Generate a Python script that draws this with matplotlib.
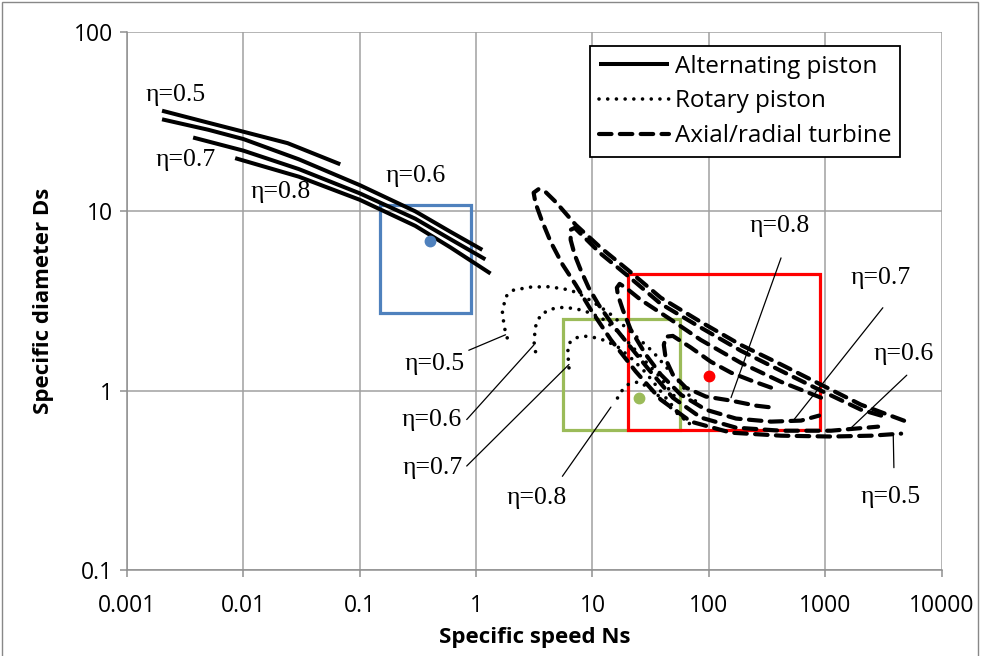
import matplotlib
matplotlib.use("Agg")
import matplotlib.pyplot as plt
import matplotlib.patches as mpatches

# axis ticks
x_ticks = [0.001, 0.01, 0.1, 1, 10, 100, 1000, 10000]
x_tick_labels = ["0.001", "0.01", "0.1", "1", "10", "100", "1000", "10000"]
y_ticks = [0.1, 1, 10, 100]
y_tick_labels = ["0.1", "1", "10", "100"]

# alternating piston (solid)
alt_a_x = [0.002, 0.005, 0.01, 0.024, 0.068]
alt_a_y = [36.4, 31.2, 27.8, 24.0, 18.3]
alt_b_x = [0.002, 0.005, 0.01, 0.03, 0.1, 0.3, 0.6, 1.13]
alt_b_y = [32.6, 28.5, 25.3, 19.5, 14.0, 10.0, 7.7, 6.1]
alt_c_x = [0.0037, 0.01, 0.03, 0.1, 0.3, 0.6, 1.2]
alt_c_y = [25.8, 21.8, 17.2, 12.6, 9.1, 7.0, 5.4]
alt_d_x = [0.0085, 0.03, 0.1, 0.3, 0.6, 1.33]
alt_d_y = [19.8, 15.6, 11.6, 8.3, 6.3, 4.5]

# rotary piston (dotted), eta 0.5 .. 0.8
rot_05_x = [1.85, 1.75, 1.68, 1.79, 2.10, 2.94, 4.11, 5.65, 7.46, 10.05, 13.8, 18.2, 24.5, 33.0, 42.7, 56.2, 70, 85.3]
rot_05_y = [1.97, 2.25, 2.72, 3.34, 3.64, 3.78, 3.80, 3.70, 3.52, 3.13, 2.72, 2.33, 1.97, 1.65, 1.36, 1.11, 0.914, 0.835]
rot_06_x = [3.24, 3.14, 3.24, 3.58, 4.37, 5.69, 7.41, 9.66, 12.5, 15.8, 21.3, 28.7, 37.2, 47.1, 59.7]
rot_06_y = [1.65, 1.88, 2.28, 2.65, 2.85, 2.92, 2.85, 2.71, 2.49, 2.19, 1.80, 1.45, 1.21, 0.987, 0.815]
rot_07_x = [6.28, 6.15, 6.15, 6.49, 7.41, 8.73, 10.3, 13.0, 16.8, 22.2, 28.7, 36.4, 45.3, 57.4, 74.3]
rot_07_y = [1.34, 1.59, 1.78, 1.88, 1.98, 2.01, 1.98, 1.90, 1.74, 1.49, 1.26, 1.04, 0.869, 0.726, 0.622]
rot_08_x = [16.4, 18.1, 20.5, 25.0, 30.5, 38.6, 49, 63.4]
rot_08_y = [0.91, 1.01, 1.09, 1.12, 1.04, 0.914, 0.783, 0.681]

# axial/radial turbine (dashed), eta 0.5 .. 0.8
turb_05_x = [4760, 2030, 920, 417, 188, 85, 38.6, 20.1, 11.8, 7.17, 4.82, 3.96, 3.44, 3.12, 3.24, 3.65,
             4.37, 5.54, 7.17, 9.66, 14.4, 23.5, 38.6, 70, 155, 417, 1122, 2480, 4490]
turb_05_y = [0.68, 0.835, 1.08, 1.40, 1.80, 2.42, 3.30, 4.72, 6.26, 8.41, 11.3, 12.8, 13.3, 12.7, 11.1, 8.97,
             6.76, 5.04, 3.90, 2.83, 1.92, 1.28, 0.891, 0.672, 0.583, 0.561, 0.555, 0.561, 0.576]
turb_06_x = [3020, 2030, 920, 417, 188, 85, 38.6, 20.1, 11.8, 7.91, 7.03, 6.49, 6.49, 7.03, 7.91, 9.27,
             11.3, 14.9, 20.5, 30.5, 49, 85.3, 171, 417, 1122, 2845]
turb_06_y = [0.726, 0.783, 1.0, 1.29, 1.67, 2.25, 3.05, 4.37, 5.80, 7.50, 8.09, 7.89, 6.93, 5.72, 4.72, 3.75,
             3.01, 2.33, 1.80, 1.31, 0.914, 0.708, 0.622, 0.598, 0.598, 0.63]
turb_07_x = [920, 417, 188, 85, 47.1, 26, 19.3, 17.1, 16.2, 16.5, 18.2, 21.3, 28.7, 38.6, 57.4, 94.2,
             171, 342, 619, 885]
turb_07_y = [0.914, 1.12, 1.43, 1.92, 2.49, 3.21, 3.75, 3.94, 3.75, 3.43, 2.83, 2.19, 1.59, 1.23, 0.95, 0.783,
             0.699, 0.672, 0.681, 0.726]
turb_08_x = [342, 230, 155, 104, 70, 49, 42.7, 41, 42.7, 49, 63.4, 94.2, 155, 254, 356]
turb_08_y = [1.04, 1.14, 1.26, 1.45, 1.74, 2.02, 2.00, 1.80, 1.49, 1.23, 1.04, 0.927, 0.88, 0.825, 0.804]

# operating windows (boxes) and design points
box_x_lo = [0.15, 5.6, 20]
box_x_hi = [0.9, 56, 900]
box_y_lo = [2.7, 0.6, 0.6]
box_y_hi = [10.8, 2.5, 4.5]
box_colors = ["#4f81bd", "#9bbb59", "#ff0000"]
point_x = [0.4, 25, 100]
point_y = [6.8, 0.91, 1.2]

fig = plt.figure(figsize=(9.83, 6.56), dpi=100)
ax = fig.add_axes([0.1292, 0.1311, 0.8287, 0.8201])
ax.set_xscale("log")
ax.set_yscale("log")
ax.set_xlim(0.001, 10000)
ax.set_ylim(0.1, 100)

ax.grid(True, which="major", color="#a0a0a0", lw=1.1)
ax.set_axisbelow(True)
for s in ["top", "right"]:
    ax.spines[s].set_visible(False)
for s in ["left", "bottom"]:
    ax.spines[s].set_color("#909090")
    ax.spines[s].set_linewidth(1.1)

ax.set_xticks(x_ticks)
ax.set_xticklabels(x_tick_labels)
ax.set_yticks(y_ticks)
ax.set_yticklabels(y_tick_labels)
ax.minorticks_off()
ax.tick_params(axis="x", length=5, width=1.1, color="#909090", pad=12, labelsize=16.5)
ax.tick_params(axis="y", length=5, width=1.1, color="#909090", pad=5, labelsize=16.5)
for lab in ax.get_xticklabels() + ax.get_yticklabels():
    lab.set_fontfamily("Open Sans")

ax.set_xlabel("Specific speed Ns", fontsize=16, fontweight="bold", family="Open Sans", labelpad=7)
ax.set_ylabel("Specific diameter Ds", fontsize=16, fontweight="bold", family="Open Sans", labelpad=14)

# boxes
for i in range(3):
    r = mpatches.Rectangle((box_x_lo[i], box_y_lo[i]), box_x_hi[i] - box_x_lo[i], box_y_hi[i] - box_y_lo[i],
                           fill=False, ec=box_colors[i], lw=2.3, zorder=2)
    ax.add_patch(r)

solid_kw = dict(color="black", lw=2.9, solid_capstyle="butt", zorder=3)
dot_kw = dict(color="black", lw=2.6, linestyle=(0, (0.01, 2.4)), dash_capstyle="round", zorder=3)
dash_kw = dict(color="black", lw=3.0, linestyle=(0, (3.0, 2.0)), dash_capstyle="round", zorder=3)

ax.plot(alt_a_x, alt_a_y, label="Alternating piston", **solid_kw)
for xs, ys in [(alt_b_x, alt_b_y), (alt_c_x, alt_c_y), (alt_d_x, alt_d_y)]:
    ax.plot(xs, ys, **solid_kw)

ax.plot(rot_05_x, rot_05_y, label="Rotary piston", **dot_kw)
for xs, ys in [(rot_06_x, rot_06_y), (rot_07_x, rot_07_y), (rot_08_x, rot_08_y)]:
    ax.plot(xs, ys, **dot_kw)

ax.plot(turb_05_x, turb_05_y, label="Axial/radial turbine", **dash_kw)
for xs, ys in [(turb_06_x, turb_06_y), (turb_07_x, turb_07_y), (turb_08_x, turb_08_y)]:
    ax.plot(xs, ys, **dash_kw)

for i in range(3):
    ax.plot(point_x[i], point_y[i], "o", color=box_colors[i], ms=7.5, zorder=4)

# efficiency labels
lab_kw = dict(fontsize=18.5, family="Liberation Serif", ha="center", va="center", zorder=5)
lead_kw = dict(arrowstyle="-", lw=0.9, color="black", shrinkA=0, shrinkB=0)

ax.text(0.00264, 44.6, "η=0.5", **lab_kw)
ax.text(0.00322, 19.4, "η=0.7", **lab_kw)
ax.text(0.0211, 12.8, "η=0.8", **lab_kw)
ax.text(0.30, 15.8, "η=0.6", **lab_kw)

# rotary piston labels with leaders
ax.text(0.44, 1.40, "η=0.5", **lab_kw)
ax.annotate("", xy=(1.79, 2.05), xytext=(0.865, 1.68), arrowprops=lead_kw)
ax.text(0.413, 0.69, "η=0.6", **lab_kw)
ax.annotate("", xy=(3.14, 1.80), xytext=(0.83, 0.69), arrowprops=lead_kw)
ax.text(0.42, 0.372, "η=0.7", **lab_kw)
ax.annotate("", xy=(6.28, 1.40), xytext=(0.83, 0.38), arrowprops=lead_kw)
ax.text(3.31, 0.253, "η=0.8", **lab_kw)
ax.annotate("", xy=(14.4, 0.81), xytext=(5.51, 0.333), arrowprops=lead_kw)

# turbine labels with leaders
ax.text(402, 8.3, "η=0.8", **lab_kw)
ax.annotate("", xy=(155, 0.914), xytext=(417, 5.5), arrowprops=lead_kw)
ax.text(3020, 4.27, "η=0.7", **lab_kw)
ax.annotate("", xy=(525, 0.675), xytext=(3126, 2.90), arrowprops=lead_kw)
ax.text(4760, 1.61, "η=0.6", **lab_kw)
ax.annotate("", xy=(1667, 0.62), xytext=(5020, 1.22), arrowprops=lead_kw)
ax.text(3680, 0.256, "η=0.5", **lab_kw)
ax.annotate("", xy=(3840, 0.569), xytext=(3890, 0.372), arrowprops=lead_kw)

leg = ax.legend(loc="upper right", bbox_to_anchor=(0.949, 0.974), frameon=True, fancybox=False,
                framealpha=1, edgecolor="black", handlelength=2.9, handletextpad=0.25,
                labelspacing=0.45, borderpad=0.35, borderaxespad=0,
                prop={"family": "Open Sans", "size": 17.5})
leg.get_frame().set_linewidth(1.3)

fig.patches.append(mpatches.Rectangle((0.002, -0.01), 0.993, 1.007, transform=fig.transFigure,
                                      fill=False, ec="#888888", lw=1))

fig.savefig("out.png", dpi=100)
